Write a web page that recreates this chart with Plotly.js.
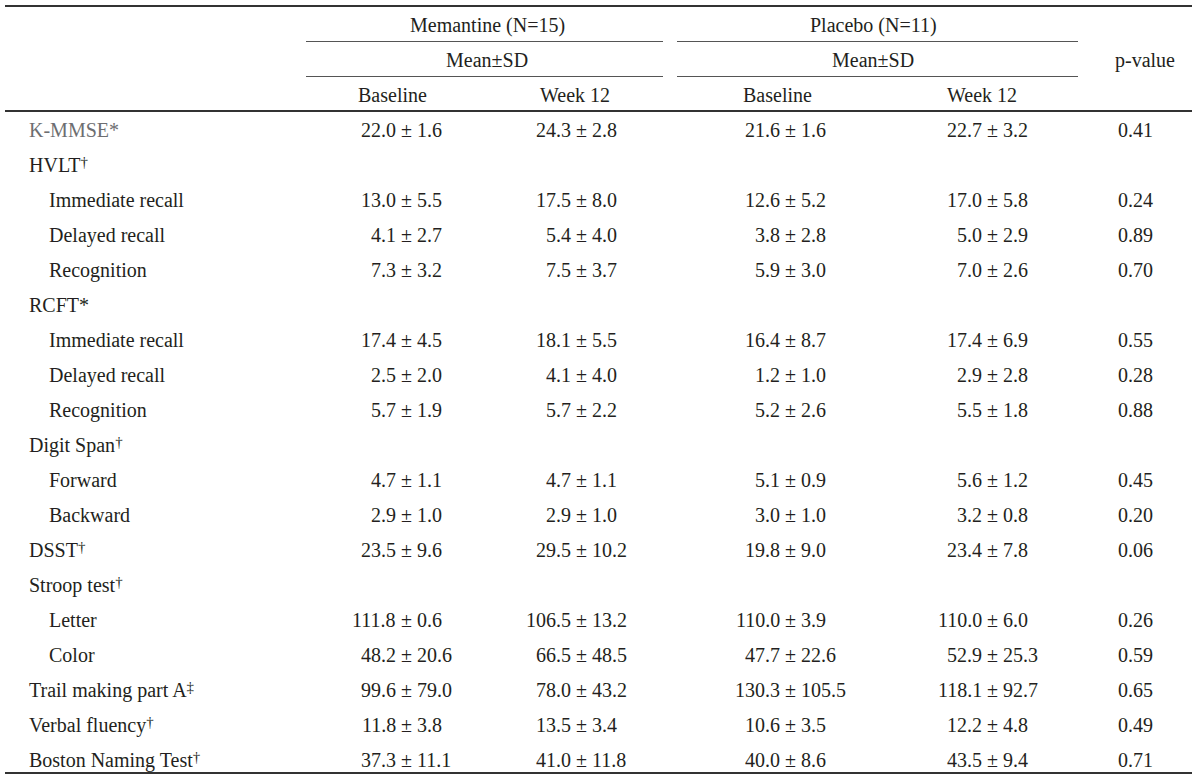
<!DOCTYPE html>
<html>
<head>
<meta charset="utf-8">
<script src="https://cdn.plot.ly/plotly-3.0.1.min.js"></script>
<style>html,body{margin:0;padding:0;background:#fff;}#chart{width:1200px;height:782px;}</style>
</head>
<body>
<div id="chart"></div>
<script>
// ---- data ----
const D = '<span style="font-size:15px;baseline-shift:5px">†</span>';
const DD = '<span style="font-size:15px;baseline-shift:5px">‡</span>';
const rowLabels = ["K-MMSE*", "HVLT" + D, "Immediate recall", "Delayed recall", "Recognition",
  "RCFT*", "Immediate recall", "Delayed recall", "Recognition", "Digit Span" + D, "Forward", "Backward",
  "DSST" + D, "Stroop test" + D, "Letter", "Color", "Trail making part A" + DD,
  "Verbal fluency" + D, "Boston Naming Test" + D];
const rowIndent = [0,0,1,1,1,0,1,1,1,0,1,1,0,0,1,1,0,0,0];
const memBaseMean = ["22.0", null, "13.0", "4.1", "7.3", null, "17.4", "2.5", "5.7", null, "4.7", "2.9", "23.5", null, "111.8", "48.2", "99.6", "11.8", "37.3"];
const memBaseSD   = ["1.6", null, "5.5", "2.7", "3.2", null, "4.5", "2.0", "1.9", null, "1.1", "1.0", "9.6", null, "0.6", "20.6", "79.0", "3.8", "11.1"];
const memW12Mean  = ["24.3", null, "17.5", "5.4", "7.5", null, "18.1", "4.1", "5.7", null, "4.7", "2.9", "29.5", null, "106.5", "66.5", "78.0", "13.5", "41.0"];
const memW12SD    = ["2.8", null, "8.0", "4.0", "3.7", null, "5.5", "4.0", "2.2", null, "1.1", "1.0", "10.2", null, "13.2", "48.5", "43.2", "3.4", "11.8"];
const plaBaseMean = ["21.6", null, "12.6", "3.8", "5.9", null, "16.4", "1.2", "5.2", null, "5.1", "3.0", "19.8", null, "110.0", "47.7", "130.3", "10.6", "40.0"];
const plaBaseSD   = ["1.6", null, "5.2", "2.8", "3.0", null, "8.7", "1.0", "2.6", null, "0.9", "1.0", "9.0", null, "3.9", "22.6", "105.5", "3.5", "8.6"];
const plaW12Mean  = ["22.7", null, "17.0", "5.0", "7.0", null, "17.4", "2.9", "5.5", null, "5.6", "3.2", "23.4", null, "110.0", "52.9", "118.1", "12.2", "43.5"];
const plaW12SD    = ["3.2", null, "5.8", "2.9", "2.6", null, "6.9", "2.8", "1.8", null, "1.2", "0.8", "7.8", null, "6.0", "25.3", "92.7", "4.8", "9.4"];
const pValues     = ["0.41", null, "0.24", "0.89", "0.70", null, "0.55", "0.28", "0.88", null, "0.45", "0.20", "0.06", null, "0.26", "0.59", "0.65", "0.49", "0.71"];
const groupHeaders = ["Memantine (N=15)", "Placebo (N=11)"];
const statHeader = "Mean±SD";
const timeHeaders = ["Baseline", "Week 12", "Baseline", "Week 12"];
const pHeader = "p-value";

// ---- layout helpers ----
const FONT = "Liberation Serif, Times New Roman, serif";
const TXT = "#231f20";
const FS = 20;
const ann = [];
function t(text, x, y, anchor, color, size) {
  ann.push({text: text, x: x, y: y, xref: "x", yref: "y", xanchor: anchor, yanchor: "middle",
    showarrow: false, font: {family: FONT, size: size || FS, color: color || TXT}});
}
// column geometry: [pm-left, pm-right]
const cols = [[398, 415], [573, 590], [782, 799], [984, 1001]];
const groupCenters = [487, 873];
const timeCenters = [392, 575, 777, 982];
const pCenter = 1135;

// headers (row units: -3, -2, -1)
groupHeaders.forEach((g, i) => t(g, groupCenters[i], -3, "center"));
groupCenters.forEach(c => t(statHeader, c, -2, "center"));
timeHeaders.forEach((h, i) => t(h, timeCenters[i], -1, "center"));
t(pHeader, 1145, -2, "center");

// body
const means = [memBaseMean, memW12Mean, plaBaseMean, plaW12Mean];
const sds = [memBaseSD, memW12SD, plaBaseSD, plaW12SD];
rowLabels.forEach((lab, i) => {
  t(lab, rowIndent[i] ? 47 : 27, i, "left", i === 0 ? "#6d6e71" : TXT);
  for (let c = 0; c < 4; c++) {
    if (means[c][i] === null) continue;
    t(means[c][i], cols[c][0], i, "right");
    t("±", (cols[c][0] + cols[c][1]) / 2, i, "center");
    t(sds[c][i], cols[c][1], i, "left");
  }
  if (pValues[i] !== null) t(pValues[i], pCenter, i, "center");
});

const P2R = p => (p - 130) / 35; // pixel row -> row units (only for rule lines)
const shapes = [
  {type: "line", xref: "x", yref: "y", x0: 5, x1: 1192, y0: P2R(6), y1: P2R(6), line: {color: "#333", width: 2}},
  {type: "line", xref: "x", yref: "y", x0: 306, x1: 663, y0: P2R(41.5), y1: P2R(41.5), line: {color: "#555", width: 1}},
  {type: "line", xref: "x", yref: "y", x0: 677, x1: 1078, y0: P2R(41.5), y1: P2R(41.5), line: {color: "#555", width: 1}},
  {type: "line", xref: "x", yref: "y", x0: 306, x1: 663, y0: P2R(76.5), y1: P2R(76.5), line: {color: "#555", width: 1}},
  {type: "line", xref: "x", yref: "y", x0: 677, x1: 1078, y0: P2R(76.5), y1: P2R(76.5), line: {color: "#555", width: 1}},
  {type: "line", xref: "x", yref: "y", x0: 5, x1: 1192, y0: P2R(111), y1: P2R(111), line: {color: "#333", width: 2}},
  {type: "line", xref: "x", yref: "y", x0: 5, x1: 1192, y0: P2R(773), y1: P2R(773), line: {color: "#333", width: 2}}
];

const layout = {
  width: 1200, height: 782,
  margin: {l: 0, r: 0, t: 0, b: 0},
  paper_bgcolor: "#fff", plot_bgcolor: "#fff",
  showlegend: false,
  xaxis: {range: [0, 1200], visible: false, fixedrange: true},
  yaxis: {range: [P2R(782), P2R(0)], visible: false, fixedrange: true},
  annotations: ann,
  shapes: shapes
};
Plotly.newPlot("chart", [], layout, {displayModeBar: false, staticPlot: true});
</script>
</body>
</html>
